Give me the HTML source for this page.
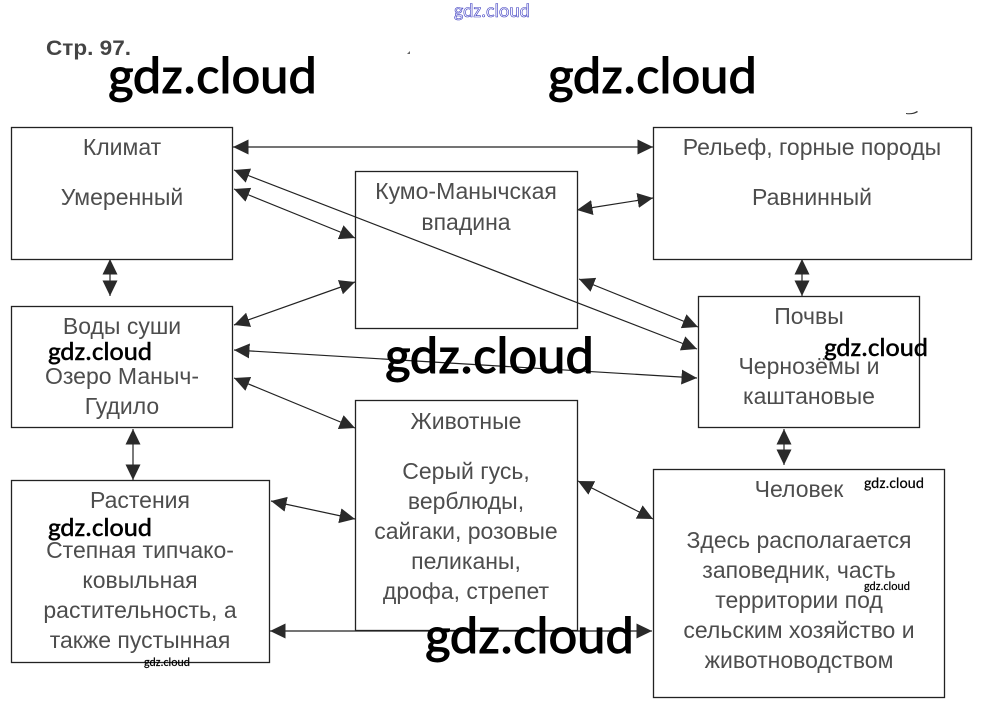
<!DOCTYPE html>
<html lang="ru">
<head>
<meta charset="utf-8">
<title>Стр. 97</title>
<style>
html,body{margin:0;padding:0;background:#fff;width:984px;height:716px;overflow:hidden}
svg{display:block}
.b{fill:none;stroke:#222;stroke-width:1.3}
.l{stroke:#222;stroke-width:1.2;fill:none;marker-start:url(#a);marker-end:url(#a)}
.t{font-family:"Liberation Sans",sans-serif;font-size:23px;fill:#4d4d4d;text-anchor:middle}
.w{font-family:Carlito,"Liberation Sans",sans-serif;fill:#000;stroke:#000}
</style>
</head>
<body>
<svg width="984" height="716" viewBox="0 0 984 716" xmlns="http://www.w3.org/2000/svg">
<defs>
<marker id="a" markerUnits="userSpaceOnUse" markerWidth="17" markerHeight="16" refX="15.5" refY="8" orient="auto-start-reverse">
<path d="M0 0.5L15.5 8L0 15.5Z" fill="#2a2a2a"/>
</marker>
</defs>
<rect width="984" height="716" fill="#fff"/>

<rect class="b" x="11.5" y="127.5" width="221" height="132"/>
<rect class="b" x="355.5" y="171.5" width="222" height="157"/>
<rect class="b" x="653.5" y="127.5" width="318" height="132"/>
<rect class="b" x="698.5" y="296.5" width="221" height="131"/>
<rect class="b" x="11.5" y="306.5" width="221" height="121"/>
<rect class="b" x="355.5" y="400.5" width="222" height="230"/>
<rect class="b" x="11.5" y="480.5" width="258" height="182"/>
<rect class="b" x="653.5" y="469.5" width="291" height="228"/>

<line class="l" x1="233" y1="147" x2="653" y2="147"/>
<line class="l" x1="234" y1="170" x2="697" y2="349"/>
<line class="l" x1="234" y1="189" x2="355" y2="238"/>
<line class="l" x1="577" y1="210" x2="653" y2="198"/>
<line class="l" x1="579" y1="279" x2="698" y2="327"/>
<line class="l" x1="110" y1="259" x2="110" y2="296"/>
<line class="l" x1="802" y1="259" x2="802" y2="296"/>
<line class="l" x1="234" y1="325" x2="355" y2="282"/>
<line class="l" x1="234" y1="350" x2="697" y2="378"/>
<line class="l" x1="234" y1="378" x2="355" y2="428"/>
<line class="l" x1="133" y1="429" x2="133" y2="480"/>
<line class="l" x1="784" y1="429" x2="784" y2="465"/>
<line class="l" x1="271" y1="501" x2="355" y2="519"/>
<line class="l" x1="578" y1="481" x2="653" y2="519"/>
<line class="l" x1="270" y1="631" x2="652" y2="631"/>

<path d="M407 54h3v-3z" fill="#666"/>
<path d="M906 113q6 1 11-2l1 1q-5 3-12 2z" fill="#333"/>

<text x="46" y="55" font-family="Liberation Sans,sans-serif" font-size="21" font-weight="bold" fill="#444" textLength="85" lengthAdjust="spacingAndGlyphs">Стр. 97.</text>

<text class="t" x="122" y="155">Климат</text>
<text class="t" x="122" y="205">Умеренный</text>
<text class="t" x="466" y="199">Кумо-Манычская</text>
<text class="t" x="466" y="230">впадина</text>
<text class="t" x="812" y="155">Рельеф, горные породы</text>
<text class="t" x="812" y="205">Равнинный</text>
<text class="t" x="809" y="324">Почвы</text>
<text class="t" x="809" y="374">Чернозёмы и</text>
<text class="t" x="809" y="404">каштановые</text>
<text class="t" x="122" y="334">Воды суши</text>
<text class="t" x="122" y="384">Озеро Маныч-</text>
<text class="t" x="122" y="414">Гудило</text>
<text class="t" x="466" y="429">Животные</text>
<text class="t" x="466" y="479">Серый гусь,</text>
<text class="t" x="466" y="509">верблюды,</text>
<text class="t" x="466" y="539">сайгаки, розовые</text>
<text class="t" x="466" y="569">пеликаны,</text>
<text class="t" x="466" y="599">дрофа, стрепет</text>
<text class="t" x="140" y="508">Растения</text>
<text class="t" x="140" y="558">Степная типчако-</text>
<text class="t" x="140" y="588">ковыльная</text>
<text class="t" x="140" y="618">растительность, а</text>
<text class="t" x="140" y="648">также пустынная</text>
<text class="t" x="799" y="497">Человек</text>
<text class="t" x="799" y="548">Здесь располагается</text>
<text class="t" x="799" y="578">заповедник, часть</text>
<text class="t" x="799" y="608">территории под</text>
<text class="t" x="799" y="638">сельским хозяйство и</text>
<text class="t" x="799" y="668">животноводством</text>

<g stroke-width="1">
<text class="w" x="108" y="93" font-size="52" textLength="209" lengthAdjust="spacingAndGlyphs">gdz.cloud</text>
<text class="w" x="548" y="93" font-size="52" textLength="209" lengthAdjust="spacingAndGlyphs">gdz.cloud</text>
<text class="w" x="385" y="373" font-size="52" textLength="209" lengthAdjust="spacingAndGlyphs">gdz.cloud</text>
<text class="w" x="425" y="653" font-size="52" textLength="209" lengthAdjust="spacingAndGlyphs">gdz.cloud</text>
</g>
<g stroke-width="0.5">
<text class="w" x="48" y="360" font-size="26" textLength="104" lengthAdjust="spacingAndGlyphs">gdz.cloud</text>
<text class="w" x="824" y="356" font-size="26" textLength="104" lengthAdjust="spacingAndGlyphs">gdz.cloud</text>
<text class="w" x="48" y="536" font-size="26" textLength="104" lengthAdjust="spacingAndGlyphs">gdz.cloud</text>
</g>
<g stroke-width="0.2">
<text class="w" x="864" y="488" font-size="15" textLength="60" lengthAdjust="spacingAndGlyphs">gdz.cloud</text>
<text class="w" x="864" y="590" font-size="12" textLength="46" lengthAdjust="spacingAndGlyphs">gdz.cloud</text>
<text class="w" x="144" y="666" font-size="12" textLength="46" lengthAdjust="spacingAndGlyphs">gdz.cloud</text>
</g>
<text x="454" y="17" font-family="Carlito,Liberation Sans,sans-serif" font-size="19" fill="#fff" stroke="#3a3ac0" stroke-width="0.6" textLength="76" lengthAdjust="spacingAndGlyphs">gdz.cloud</text>
</svg>
</body>
</html>
